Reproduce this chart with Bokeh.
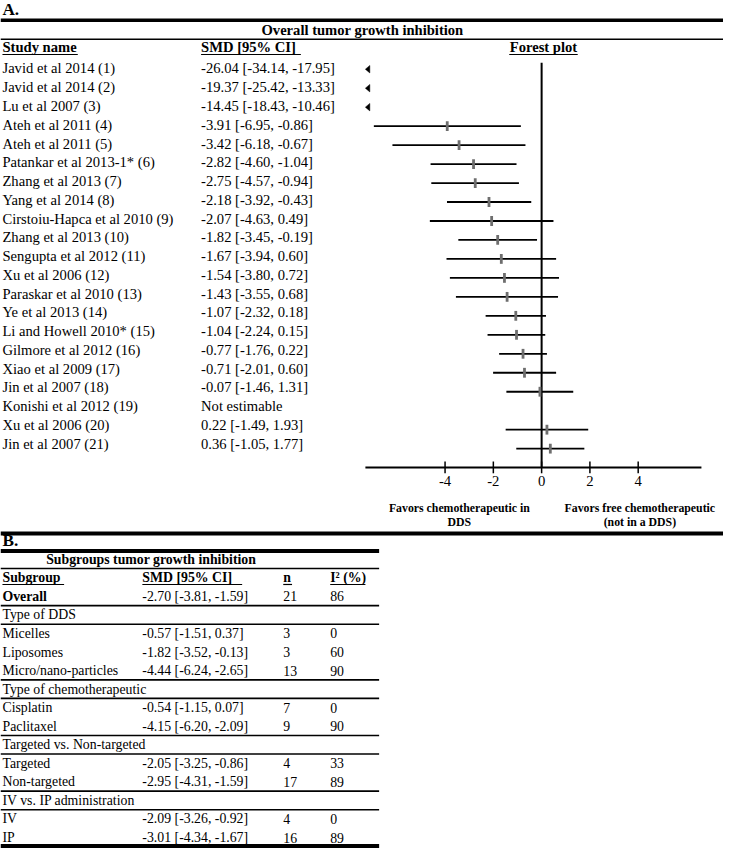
import math
from bokeh.plotting import figure
from bokeh.models import Range1d, ColumnDataSource
from bokeh.core.properties import value
from bokeh.embed import file_html
from bokeh.resources import INLINE

# ---------------- data ----------------
study_names = [
    "Javid et al 2014 (1)", "Javid et al 2014 (2)", "Lu et al 2007 (3)",
    "Ateh et al 2011 (4)", "Ateh et al 2011 (5)", "Patankar et al 2013-1* (6)",
    "Zhang et al 2013 (7)", "Yang et al 2014 (8)", "Cirstoiu-Hapca et al 2010 (9)",
    "Zhang et al 2013 (10)", "Sengupta et al 2012 (11)", "Xu et al 2006 (12)",
    "Paraskar et al 2010 (13)", "Ye et al 2013 (14)", "Li and Howell 2010* (15)",
    "Gilmore et al 2012 (16)", "Xiao et al 2009 (17)", "Jin et al 2007 (18)",
    "Konishi et al 2012 (19)", "Xu et al 2006 (20)", "Jin et al 2007 (21)",
]
smd = [-26.04, -19.37, -14.45, -3.91, -3.42, -2.82, -2.75, -2.18, -2.07, -1.82,
       -1.67, -1.54, -1.43, -1.07, -1.04, -0.77, -0.71, -0.07, None, 0.22, 0.36]
ci_low = [-34.14, -25.42, -18.43, -6.95, -6.18, -4.60, -4.57, -3.92, -4.63, -3.45,
          -3.94, -3.80, -3.55, -2.32, -2.24, -1.76, -2.01, -1.46, None, -1.49, -1.05]
ci_high = [-17.95, -13.33, -10.46, -0.86, -0.67, -1.04, -0.94, -0.43, 0.49, -0.19,
           0.60, 0.72, 0.68, 0.18, 0.15, 0.22, 0.60, 1.31, None, 1.93, 1.77]

axis_ticks = [-4, -2, 0, 2, 4]
axis_tick_labels = ["-4", "-2", "0", "2", "4"]
axis_limits = [-7.3, 6.62]

subgroup_labels = ["Overall", "Type of DDS", "Micelles", "Liposomes", "Micro/nano-particles",
                   "Type of chemotherapeutic", "Cisplatin", "Paclitaxel",
                   "Targeted vs. Non-targeted", "Targeted", "Non-targeted",
                   "IV vs. IP administration", "IV", "IP"]
subgroup_kind = ["overall", "section", "row", "row", "row", "section", "row", "row",
                 "section", "row", "row", "section", "row", "row"]
subgroup_smd = [-2.70, None, -0.57, -1.82, -4.44, None, -0.54, -4.15, None, -2.05, -2.95, None, -2.09, -3.01]
subgroup_low = [-3.81, None, -1.51, -3.52, -6.24, None, -1.15, -6.20, None, -3.25, -4.31, None, -3.26, -4.34]
subgroup_high = [-1.59, None, 0.37, -0.13, -2.65, None, 0.07, -2.09, None, -0.86, -1.59, None, -0.92, -1.67]
subgroup_n = [21, None, 3, 3, 13, None, 7, 9, None, 4, 17, None, 4, 16]
subgroup_i2 = [86, None, 0, 60, 90, None, 0, 90, None, 33, 89, None, 0, 89]

# ---------------- layout constants ----------------
W_REF, H_REF = 739, 864
ZERO_PX, PX_PER_UNIT = 553.1, 24.675
FONT = value("Liberation Serif")
FS_A = "14.6px"
FS_B = "13.8px"

p = figure(width=723, height=848,
           x_range=Range1d(0, W_REF), y_range=Range1d(H_REF, 0),
           x_axis_type=None, y_axis_type=None,
           output_backend="svg", toolbar_location=None, min_border=0)
p.outline_line_color = None
p.background_fill_color = "white"
p.border_fill_color = "white"
p.extra_x_ranges = {"smd": Range1d(-ZERO_PX / PX_PER_UNIT, (W_REF - ZERO_PX) / PX_PER_UNIT)}


def add_text(xs, ys, texts, size, bold=False, align="left", xr=None):
    # ys are wanted baselines; correct for the renderer's baseline placement
    shift = 0.347 * float(size.replace("px", ""))
    src = ColumnDataSource(dict(x=xs, y=[y - shift for y in ys], t=texts))
    kw = {"x_range_name": xr} if xr else {}
    p.text(x="x", y="y", text="t", source=src, text_font=FONT,
           text_font_size=value(size), text_font_style="bold" if bold else "normal",
           text_align=align, text_baseline="alphabetic", text_color="black", **kw)


def hline(x0, x1, y, w, color="black"):
    p.segment(x0=[x0], y0=[y], x1=[x1], y1=[y], line_color=color, line_width=w)


def fmt_ci(m, lo, hi):
    if m is None:
        return "Not estimable"
    return f"{m:.2f} [{lo:.2f}, {hi:.2f}]"


# ---------------- Panel A ----------------
add_text([2], [15.5], ["A."], "17.2px", bold=True)
hline(0, W_REF, 20, 3.5)
add_text([370], [35.5], ["Overall tumor growth inhibition"], FS_A, bold=True, align="center")
hline(0, W_REF, 39.5, 1.6)

add_text([2, 205], [52.5, 52.5], ["Study name", "SMD [95% CI]"], FS_A, bold=True)
add_text([555], [52.5], ["Forest plot"], FS_A, bold=True, align="center")
for x0, x1 in [(2, 79), (205, 307), (520, 590)]:
    hline(x0, x1, 55, 1.2)

n_rows = len(study_names)
text_y = [74.3 + 19.12 * i for i in range(n_rows)]
row_y = [70.0 + 19.33 * i for i in range(n_rows)]

add_text([2] * n_rows, text_y, study_names, FS_A)
add_text([205] * n_rows, text_y,
         [fmt_ci(m, lo, hi) for m, lo, hi in zip(smd, ci_low, ci_high)], FS_A)

ax_lo, ax_hi = axis_limits
AXIS_Y = 475.7

# CI lines, arrows and point markers
seg = dict(x0=[], x1=[], y=[])
pts = dict(x=[], y0=[], y1=[])
arr_xs, arr_ys = [], []
for m, lo, hi, y in zip(smd, ci_low, ci_high, row_y):
    if m is None:
        continue
    if hi < ax_lo:
        w = 4.5 / PX_PER_UNIT
        arr_xs.append([ax_lo, ax_lo + w, ax_lo + w])
        arr_ys.append([y, y - 3.8, y + 3.8])
        continue
    seg["x0"].append(max(lo, ax_lo))
    seg["x1"].append(min(hi, ax_hi))
    seg["y"].append(y)
    pts["x"].append(m)
    pts["y0"].append(y - 5)
    pts["y1"].append(y + 5)

p.segment(x0="x0", y0="y", x1="x1", y1="y", source=ColumnDataSource(seg),
          x_range_name="smd", line_color="black", line_width=1.8)
p.patches(xs=arr_xs, ys=arr_ys, x_range_name="smd", fill_color="black", line_color="black",
          line_width=0.5)
# zero line
p.segment(x0=[0], y0=[63.3], x1=[0], y1=[AXIS_Y], x_range_name="smd",
          line_color="black", line_width=2)
p.segment(x0="x", y0="y0", x1="x", y1="y1", source=ColumnDataSource(pts),
          x_range_name="smd", line_color="#6e6e6e", line_width=2.8)

# axis
p.segment(x0=[ax_lo], y0=[AXIS_Y], x1=[ax_hi], y1=[AXIS_Y], x_range_name="smd",
          line_color="black", line_width=2)
p.segment(x0=axis_ticks, y0=[AXIS_Y - 6] * len(axis_ticks), x1=axis_ticks,
          y1=[AXIS_Y + 6] * len(axis_ticks), x_range_name="smd",
          line_color="black", line_width=1.5)
add_text(axis_ticks, [AXIS_Y + 18.5] * len(axis_ticks), axis_tick_labels, "14.7px",
         align="center", xr="smd")

add_text([469, 469], [521, 535], ["Favors chemotherapeutic in", "DDS"], "11.8px",
         bold=True, align="center")
add_text([653.5, 653.5], [521, 535], ["Favors free chemotherapeutic", "(not in a DDS)"],
         "11.8px", bold=True, align="center")
hline(0, W_REF, 543, 4)

# ---------------- Panel B ----------------
TB_W = 387
add_text([2], [556], ["B."], "17.2px", bold=True)
hline(0, TB_W, 561, 4)
PITCH = 18.9
title_c = 569.3
add_text([154], [title_c + 4.8], ["Subgroups tumor growth inhibition"], FS_B, bold=True,
         align="center")
hline(0, TB_W, title_c + PITCH / 2, 1.6)
head_c = title_c + PITCH
add_text([2, 145, 289, 337], [head_c + 4.8] * 4,
         ["Subgroup", "SMD [95% CI]", "n", "I\u00b2 (%)"], FS_B, bold=True)
for x0, x1 in [(2, 65), (145, 247), (289, 298), (337, 373)]:
    hline(x0, x1, head_c + 6.8, 1.2)

row_centers = [head_c + PITCH * (k + 1) for k in range(len(subgroup_labels))]
for k, (lab, kind) in enumerate(zip(subgroup_labels, subgroup_kind)):
    yb = row_centers[k] + 4.8
    add_text([2], [yb], [lab], FS_B, bold=(kind == "overall"))
    if kind != "section":
        add_text([145, 289, 337], [yb] * 3,
                 [fmt_ci(subgroup_smd[k], subgroup_low[k], subgroup_high[k]),
                  str(subgroup_n[k]), str(subgroup_i2[k])], FS_B)
    # separator lines
    nxt = subgroup_kind[k + 1] if k + 1 < len(subgroup_kind) else None
    if nxt is None:
        hline(0, TB_W, 861.5, 4)
    elif kind in ("overall", "section") or nxt == "section":
        hline(0, TB_W, row_centers[k] + PITCH / 2, 1.6)

open("out.html", "w").write(file_html(p, INLINE))
